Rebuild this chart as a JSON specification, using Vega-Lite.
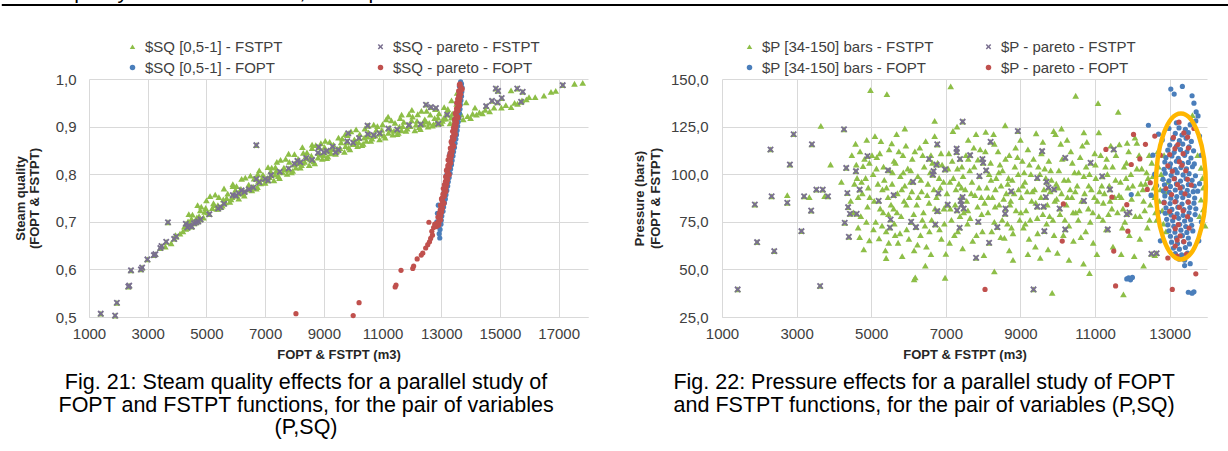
{
"$schema": "https://vega.github.io/schema/vega-lite/v6.json",
"background": "white",
"padding": {"left": 0, "top": -18, "right": 0, "bottom": 0},
"config": {
  "font": "Liberation Sans",
  "view": {"stroke": null},
  "axis": {"labelFont": "Liberation Sans", "labelFontSize": 15, "labelColor": "#404040", "titleFont": "Liberation Sans", "titleFontSize": 13, "titleFontWeight": "bold", "titleColor": "#262626", "gridColor": "#d9d9d9", "gridWidth": 1, "domainColor": "#d9d9d9", "ticks": false, "labelFlush": false, "labelOverlap": false},
  "legend": {"orient": "none", "columns": 2, "rowPadding": 5, "title": null, "labelFontSize": 15, "labelColor": "#404040", "labelFont": "Liberation Sans", "symbolSize": 30, "labelOffset": 5, "symbolStrokeWidth": 0, "labelLimit": 400}
},
"datasets": {
"L_tri": [{"x":3600,"y":0.648},{"x":3800,"y":0.655},{"x":4100,"y":0.675},{"x":4200,"y":0.68},{"x":4250,"y":0.69},{"x":3950,"y":0.672},
{"x":4300,"y":0.685},{"x":4375,"y":0.701},{"x":4450,"y":0.697},{"x":4525,"y":0.715},{"x":4600,"y":0.699},{"x":4675,"y":0.709},{"x":4750,"y":0.712},{"x":4825,"y":0.732},{"x":4900,"y":0.709},{"x":4975,"y":0.729},
{"x":5050,"y":0.72},{"x":5125,"y":0.754},{"x":5200,"y":0.729},{"x":5275,"y":0.735},{"x":5350,"y":0.727},{"x":5425,"y":0.752},{"x":5500,"y":0.731},{"x":5575,"y":0.747},{"x":5650,"y":0.741},{"x":5725,"y":0.759},{"x":5800,"y":0.742},{"x":5875,"y":0.752},{"x":5950,"y":0.755},{"x":6025,"y":0.775},
{"x":6100,"y":0.749},{"x":6175,"y":0.769},{"x":6250,"y":0.759},{"x":6325,"y":0.793},{"x":6400,"y":0.768},{"x":6475,"y":0.774},{"x":6550,"y":0.766},{"x":6625,"y":0.791},{"x":6700,"y":0.77},{"x":6775,"y":0.786},{"x":6850,"y":0.781},{"x":6925,"y":0.799},
{"x":7000,"y":0.782},{"x":7075,"y":0.792},{"x":7150,"y":0.794},{"x":7225,"y":0.814},{"x":7300,"y":0.787},{"x":7375,"y":0.807},{"x":7450,"y":0.796},{"x":7525,"y":0.83},{"x":7600,"y":0.804},{"x":7675,"y":0.81},{"x":7750,"y":0.801},{"x":7825,"y":0.826},{"x":7900,"y":0.804},{"x":7975,"y":0.82},
{"x":8050,"y":0.814},{"x":8125,"y":0.832},{"x":8200,"y":0.814},{"x":8275,"y":0.824},{"x":8350,"y":0.826},{"x":8425,"y":0.846},{"x":8500,"y":0.819},{"x":8575,"y":0.839},{"x":8650,"y":0.827},{"x":8725,"y":0.861},{"x":8800,"y":0.835},{"x":8875,"y":0.841},{"x":8950,"y":0.832},{"x":9025,"y":0.857},
{"x":9100,"y":0.834},{"x":9175,"y":0.85},{"x":9250,"y":0.844},{"x":9325,"y":0.862},{"x":9400,"y":0.843},{"x":9475,"y":0.853},{"x":9550,"y":0.855},{"x":9625,"y":0.875},{"x":9700,"y":0.847},{"x":9775,"y":0.867},{"x":9850,"y":0.856},{"x":9925,"y":0.89},
{"x":10000,"y":0.863},{"x":10075,"y":0.869},{"x":10150,"y":0.859},{"x":10225,"y":0.884},{"x":10300,"y":0.861},{"x":10375,"y":0.877},{"x":10450,"y":0.87},{"x":10525,"y":0.888},{"x":10600,"y":0.87},{"x":10675,"y":0.88},{"x":10750,"y":0.881},{"x":10825,"y":0.901},{"x":10900,"y":0.873},{"x":10975,"y":0.893},
{"x":11050,"y":0.881},{"x":11125,"y":0.915},{"x":11200,"y":0.887},{"x":11275,"y":0.893},{"x":11350,"y":0.883},{"x":11425,"y":0.908},{"x":11500,"y":0.884},{"x":11575,"y":0.9},{"x":11650,"y":0.892},{"x":11725,"y":0.91},{"x":11800,"y":0.891},{"x":11875,"y":0.901},{"x":11950,"y":0.901},{"x":12025,"y":0.921},
{"x":12100,"y":0.892},{"x":12175,"y":0.912},{"x":12250,"y":0.899},{"x":12325,"y":0.933},{"x":12400,"y":0.905},{"x":12475,"y":0.911},{"x":12550,"y":0.9},{"x":12625,"y":0.925},{"x":12700,"y":0.902},{"x":12775,"y":0.918},{"x":12850,"y":0.91},{"x":12925,"y":0.928},
{"x":13000,"y":0.907},{"x":13075,"y":0.917},{"x":13150,"y":0.917},{"x":13225,"y":0.937},{"x":13300,"y":0.907},{"x":13375,"y":0.927},{"x":13450,"y":0.914},{"x":13525,"y":0.948},{"x":13600,"y":0.92},{"x":13675,"y":0.926},
{"x":4340,"y":0.688},{"x":4490,"y":0.706},{"x":4640,"y":0.704},{"x":4790,"y":0.724},{"x":4940,"y":0.721},{"x":5090,"y":0.716},{"x":5240,"y":0.739},{"x":5390,"y":0.735},{"x":5540,"y":0.734},{"x":5690,"y":0.75},{"x":5840,"y":0.747},{"x":5990,"y":0.767},{"x":6140,"y":0.761},{"x":6290,"y":0.755},{"x":6440,"y":0.778},{"x":6590,"y":0.774},{"x":6740,"y":0.773},{"x":6890,"y":0.79},{"x":7040,"y":0.787},{"x":7190,"y":0.806},{"x":7340,"y":0.799},{"x":7490,"y":0.792},{"x":7640,"y":0.814},{"x":7790,"y":0.809},{"x":7940,"y":0.807},{"x":8090,"y":0.823},{"x":8240,"y":0.819},{"x":8390,"y":0.838},{"x":8540,"y":0.831},{"x":8690,"y":0.823},{"x":8840,"y":0.845},{"x":8990,"y":0.84},{"x":9140,"y":0.837},{"x":9290,"y":0.853},{"x":9440,"y":0.848},{"x":9590,"y":0.867},{"x":9740,"y":0.859},{"x":9890,"y":0.852},{"x":10040,"y":0.873},{"x":10190,"y":0.867},{"x":10340,"y":0.864},{"x":10490,"y":0.879},{"x":10640,"y":0.875},{"x":10790,"y":0.893},{"x":10940,"y":0.885},{"x":11090,"y":0.877},{"x":11240,"y":0.897},{"x":11390,"y":0.891},{"x":11540,"y":0.887},{"x":11690,"y":0.901},{"x":11840,"y":0.896},{"x":11990,"y":0.913},{"x":12140,"y":0.904},{"x":12290,"y":0.895},{"x":12440,"y":0.915},{"x":12590,"y":0.908},{"x":12740,"y":0.905},{"x":12890,"y":0.919},{"x":13040,"y":0.912},{"x":13190,"y":0.929},{"x":13340,"y":0.919},{"x":13490,"y":0.91},{"x":13640,"y":0.93},
{"x":4400,"y":0.716},{"x":4700,"y":0.735},{"x":5000,"y":0.745},{"x":5300,"y":0.757},{"x":5600,"y":0.77},{"x":5900,"y":0.779},{"x":6200,"y":0.79},{"x":6500,"y":0.797},{"x":6800,"y":0.808},{"x":7100,"y":0.815},{"x":7400,"y":0.826},{"x":7700,"y":0.832},{"x":8000,"y":0.842},{"x":8300,"y":0.845},{"x":8600,"y":0.855},{"x":8900,"y":0.865},{"x":9200,"y":0.868},{"x":9500,"y":0.877},{"x":9800,"y":0.882},{"x":10100,"y":0.894},{"x":10400,"y":0.896},{"x":10700,"y":0.904},{"x":11000,"y":0.905},{"x":11300,"y":0.913},{"x":11600,"y":0.918},{"x":11900,"y":0.926},{"x":12200,"y":0.926},{"x":12500,"y":0.933},{"x":12800,"y":0.937},{"x":13100,"y":0.941},
{"x":6750,"y":0.8},{"x":7350,"y":0.815},{"x":7800,"y":0.843},{"x":8270,"y":0.857},{"x":8600,"y":0.862},{"x":9050,"y":0.87},{"x":9730,"y":0.884},{"x":10520,"y":0.902},{"x":11190,"y":0.921},{"x":11650,"y":0.925},{"x":12000,"y":0.935},{"x":13540,"y":0.971},{"x":13350,"y":0.955},{"x":5900,"y":0.775},
{"x":13750,"y":0.915},{"x":13850,"y":0.951},{"x":13900,"y":0.922},{"x":14000,"y":0.918},{"x":14070,"y":0.927},{"x":14200,"y":0.925},{"x":14300,"y":0.93},{"x":14400,"y":0.928},{"x":14500,"y":0.935},{"x":14650,"y":0.932},{"x":14800,"y":0.94},{"x":15050,"y":0.94},{"x":15200,"y":0.945},{"x":15380,"y":0.941},{"x":15500,"y":0.95},{"x":15600,"y":0.948},{"x":15750,"y":0.955},{"x":15900,"y":0.957},{"x":15990,"y":0.962},{"x":16200,"y":0.962},{"x":16500,"y":0.965},{"x":16740,"y":0.973},{"x":15378,"y":0.976},{"x":17540,"y":0.99},{"x":17820,"y":0.992},{"x":16900,"y":0.975},{"x":14150,"y":0.94}],
"L_par": [{"x":1400,"y":0.507},{"x":1890,"y":0.503},{"x":1950,"y":0.53},{"x":2340,"y":0.564},{"x":2370,"y":0.566},{"x":2430,"y":0.598},{"x":2770,"y":0.6},{"x":2810,"y":0.604},{"x":2990,"y":0.621},{"x":3210,"y":0.63},{"x":3260,"y":0.632},{"x":3430,"y":0.645},{"x":3470,"y":0.649},{"x":3630,"y":0.658},{"x":3900,"y":0.664},{"x":3970,"y":0.669},{"x":3690,"y":0.699},{"x":4300,"y":0.696},
{"x":4350,"y":0.688},{"x":4420,"y":0.692},{"x":4500,"y":0.69},{"x":4580,"y":0.697},{"x":4650,"y":0.699},{"x":4720,"y":0.701},{"x":4800,"y":0.705},{"x":5100,"y":0.716},{"x":5400,"y":0.728},{"x":5480,"y":0.731},{"x":5600,"y":0.738},{"x":5900,"y":0.756},{"x":6000,"y":0.755},{"x":6100,"y":0.76},{"x":6200,"y":0.766},{"x":6300,"y":0.763},{"x":6450,"y":0.768},{"x":6600,"y":0.772},{"x":6700,"y":0.79},{"x":6800,"y":0.783},{"x":7000,"y":0.79},{"x":7100,"y":0.787},{"x":7200,"y":0.798},{"x":7500,"y":0.805},{"x":7800,"y":0.812},{"x":8000,"y":0.822},{"x":8100,"y":0.828},{"x":8200,"y":0.825},{"x":8400,"y":0.834},{"x":8600,"y":0.83},{"x":8800,"y":0.845},{"x":9000,"y":0.846},{"x":9100,"y":0.849},{"x":9300,"y":0.858},{"x":9400,"y":0.846},{"x":9500,"y":0.851},{"x":9800,"y":0.869},{"x":10000,"y":0.866},{"x":10200,"y":0.876},{"x":10500,"y":0.884},{"x":10700,"y":0.882},{"x":10900,"y":0.886},{"x":11200,"y":0.896},{"x":11500,"y":0.894},{"x":11900,"y":0.903},{"x":12300,"y":0.905},{"x":12900,"y":0.906},{"x":13200,"y":0.925},
{"x":6700,"y":0.861},{"x":8830,"y":0.857},{"x":9830,"y":0.886},{"x":10490,"y":0.902},{"x":12480,"y":0.946},{"x":12650,"y":0.941},{"x":12820,"y":0.939},{"x":14530,"y":0.943},{"x":14730,"y":0.954},{"x":14935,"y":0.975},{"x":14860,"y":0.98},{"x":15590,"y":0.98},{"x":15720,"y":0.952},{"x":15775,"y":0.973},{"x":14920,"y":0.951},{"x":17140,"y":0.987},{"x":15060,"y":0.96}],
"L_blu": [{"x":12950,"y":0.666},{"x":12930,"y":0.675},{"x":12960,"y":0.684},{"x":12990,"y":0.695},{"x":13000,"y":0.703},{"x":13020,"y":0.712},{"x":13060,"y":0.722},{"x":13080,"y":0.731},{"x":13110,"y":0.74},{"x":13140,"y":0.748},{"x":13160,"y":0.757},{"x":13190,"y":0.766},{"x":13220,"y":0.775},{"x":13240,"y":0.784},{"x":13270,"y":0.793},{"x":13300,"y":0.802},{"x":13320,"y":0.811},{"x":13350,"y":0.82},{"x":13370,"y":0.829},{"x":13400,"y":0.838},{"x":13420,"y":0.847},{"x":13450,"y":0.856},{"x":13470,"y":0.865},{"x":13500,"y":0.874},{"x":13520,"y":0.883},{"x":13540,"y":0.892},{"x":13560,"y":0.901},{"x":13580,"y":0.91},{"x":13600,"y":0.919},{"x":13620,"y":0.928},{"x":13640,"y":0.937},{"x":13650,"y":0.946},{"x":13670,"y":0.955},{"x":13690,"y":0.964},{"x":13700,"y":0.973},{"x":13710,"y":0.982},{"x":13690,"y":0.99},{"x":13660,"y":0.994},{"x":12850,"y":0.7},{"x":12870,"y":0.718},{"x":12900,"y":0.735},{"x":13080,"y":0.76},{"x":13180,"y":0.798},{"x":13290,"y":0.842},{"x":13380,"y":0.878},{"x":13460,"y":0.915},{"x":13540,"y":0.95},{"x":13620,"y":0.985}],
"L_red": [{"x":12840,"y":0.69},{"x":12917,"y":0.695},{"x":12903,"y":0.7},{"x":12970,"y":0.705},{"x":12887,"y":0.71},{"x":12963,"y":0.715},{"x":13010,"y":0.72},{"x":12965,"y":0.725},{"x":13020,"y":0.73},{"x":12975,"y":0.735},{"x":13090,"y":0.74},{"x":13035,"y":0.745},{"x":13030,"y":0.75},{"x":13105,"y":0.755},{"x":13090,"y":0.76},{"x":13155,"y":0.765},{"x":13070,"y":0.77},{"x":13145,"y":0.775},{"x":13190,"y":0.78},{"x":13143,"y":0.785},{"x":13197,"y":0.79},{"x":13150,"y":0.795},{"x":13263,"y":0.8},{"x":13207,"y":0.805},{"x":13200,"y":0.81},{"x":13273,"y":0.815},{"x":13257,"y":0.82},{"x":13320,"y":0.825},{"x":13233,"y":0.83},{"x":13307,"y":0.835},{"x":13350,"y":0.84},{"x":13303,"y":0.845},{"x":13357,"y":0.85},{"x":13310,"y":0.855},{"x":13423,"y":0.86},{"x":13367,"y":0.865},{"x":13360,"y":0.87},{"x":13432,"y":0.875},{"x":13413,"y":0.88},{"x":13475,"y":0.885},{"x":13387,"y":0.89},{"x":13458,"y":0.895},{"x":13500,"y":0.9},{"x":13452,"y":0.905},{"x":13503,"y":0.91},{"x":13455,"y":0.915},{"x":13567,"y":0.92},{"x":13508,"y":0.925},{"x":13500,"y":0.93},{"x":13572,"y":0.935},{"x":13553,"y":0.94},{"x":13615,"y":0.945},{"x":13527,"y":0.95},{"x":13598,"y":0.955},{"x":13640,"y":0.96},{"x":13592,"y":0.965},{"x":13643,"y":0.97},{"x":13595,"y":0.975},{"x":13707,"y":0.98},{"x":13648,"y":0.985},{"x":13640,"y":0.99},
{"x":12903,"y":0.693},{"x":12870,"y":0.698},{"x":12967,"y":0.703},{"x":12923,"y":0.708},{"x":12980,"y":0.713},{"x":12927,"y":0.718},{"x":12993,"y":0.723},{"x":13038,"y":0.728},{"x":12993,"y":0.733},{"x":13088,"y":0.738},{"x":13043,"y":0.743},{"x":13008,"y":0.748},{"x":13093,"y":0.753},{"x":13058,"y":0.758},{"x":13153,"y":0.763},{"x":13108,"y":0.768},{"x":13163,"y":0.773},{"x":13108,"y":0.778},{"x":13172,"y":0.783},{"x":13215,"y":0.788},{"x":13168,"y":0.793},{"x":13262,"y":0.798},{"x":13215,"y":0.803},{"x":13178,"y":0.808},{"x":13262,"y":0.813},{"x":13225,"y":0.818},{"x":13318,"y":0.823},{"x":13272,"y":0.828},{"x":13325,"y":0.833},{"x":13268,"y":0.838},{"x":13332,"y":0.843},{"x":13375,"y":0.848},{"x":13328,"y":0.853},{"x":13422,"y":0.858},{"x":13375,"y":0.863},{"x":13338,"y":0.868},{"x":13421,"y":0.873},{"x":13383,"y":0.878},{"x":13474,"y":0.883},{"x":13426,"y":0.888},{"x":13477,"y":0.893},{"x":13419,"y":0.898},{"x":13481,"y":0.903},{"x":13522,"y":0.908},{"x":13474,"y":0.913},{"x":13566,"y":0.918},{"x":13517,"y":0.923},{"x":13479,"y":0.928},{"x":13561,"y":0.933},{"x":13522,"y":0.938},{"x":13614,"y":0.943},{"x":13566,"y":0.948},{"x":13617,"y":0.953},{"x":13559,"y":0.958},{"x":13621,"y":0.963},{"x":13662,"y":0.968},{"x":13614,"y":0.973},{"x":13706,"y":0.978},{"x":13657,"y":0.983},{"x":13619,"y":0.988},
{"x":8050,"y":0.507},{"x":10000,"y":0.503},{"x":10200,"y":0.53},{"x":11430,"y":0.563},{"x":11460,"y":0.567},{"x":11630,"y":0.598},{"x":12030,"y":0.602},{"x":12060,"y":0.607},{"x":12180,"y":0.622},{"x":12320,"y":0.63},{"x":12370,"y":0.634},{"x":12470,"y":0.645},{"x":12540,"y":0.652},{"x":12600,"y":0.658},{"x":12640,"y":0.665},{"x":12580,"y":0.699},{"x":12680,"y":0.68},{"x":12740,"y":0.688},{"x":12700,"y":0.672},{"x":12780,"y":0.695}],
"R_tri": [{"x":4550,"y":95},{"x":4600,"y":105},{"x":4650,"y":88},{"x":4700,"y":112},{"x":4720,"y":78},{"x":4780,"y":104.2},{"x":4800,"y":60.5},{"x":4850,"y":98},{"x":4900,"y":83},{"x":4950,"y":106},{"x":4950,"y":65.2},{"x":4980,"y":144.2},{"x":4650,"y":72},{"x":4880,"y":118},{"x":4920,"y":93},
{"x":5050,"y":100},{"x":5080,"y":86},{"x":5120,"y":75},{"x":5150,"y":109},{"x":5210,"y":66.3},{"x":5260,"y":117.4},{"x":5300,"y":92},{"x":5320,"y":80},{"x":5350,"y":97},{"x":5400,"y":70},{"x":5420,"y":142.1},{"x":5450,"y":88},{"x":5480,"y":113},{"x":5500,"y":102},{"x":5100,"y":120},{"x":5380,"y":60},
{"x":5550,"y":116.2},{"x":5560,"y":95},{"x":5600,"y":82},{"x":5620,"y":74},{"x":5650,"y":106},{"x":5700,"y":90},{"x":5720,"y":64},{"x":5780,"y":99},{"x":5800,"y":78},{"x":5850,"y":110},{"x":5880,"y":86},{"x":5900,"y":94},{"x":5950,"y":71},{"x":5980,"y":103},{"x":5680,"y":121},{"x":5830,"y":57},
{"x":6020,"y":88},{"x":6050,"y":96},{"x":6070,"y":75},{"x":6100,"y":108},{"x":6150,"y":44.8},{"x":6180,"y":45.8},{"x":6200,"y":72.2},{"x":6220,"y":84},{"x":6250,"y":99},{"x":6300,"y":114},{"x":6320,"y":68},{"x":6350,"y":91},{"x":6400,"y":80},{"x":6420,"y":104},{"x":6460,"y":117.4},{"x":6480,"y":62},{"x":6150,"y":60},
{"x":6520,"y":95},{"x":6550,"y":85},{"x":6600,"y":110},{"x":6620,"y":76},{"x":6650,"y":99.8},{"x":6700,"y":120},{"x":6720,"y":73.6},{"x":6750,"y":88},{"x":6770,"y":115.7},{"x":6800,"y":80.6},{"x":6850,"y":93},{"x":6880,"y":66},{"x":6900,"y":105},{"x":6950,"y":82},{"x":6980,"y":45.6},{"x":6980,"y":102.5},{"x":6600,"y":58},
{"x":7000,"y":58.2},{"x":7030,"y":90},{"x":7080,"y":111},{"x":7130,"y":146.1},{"x":7150,"y":76},{"x":7190,"y":122.7},{"x":7200,"y":98},{"x":7250,"y":84},{"x":7320,"y":70},{"x":7350,"y":95},{"x":7400,"y":88},{"x":7430,"y":104},{"x":7480,"y":80},{"x":7100,"y":64},
{"x":7520,"y":92},{"x":7560,"y":86},{"x":7600,"y":108},{"x":7650,"y":77},{"x":7700,"y":96},{"x":7720,"y":65},{"x":7750,"y":114},{"x":7810,"y":121},{"x":7850,"y":83},{"x":7860,"y":107.7},{"x":7950,"y":88},{"x":7980,"y":70},{"x":7600,"y":118},
{"x":8020,"y":57.5},{"x":8070,"y":122.2},{"x":8100,"y":93},{"x":8130,"y":80},{"x":8200,"y":106},{"x":8250,"y":88},{"x":8280,"y":121},{"x":8300,"y":75},{"x":8350,"y":98},{"x":8400,"y":112},{"x":8430,"y":84},{"x":8470,"y":67},{"x":8480,"y":94},
{"x":8520,"y":102},{"x":8570,"y":66.6},{"x":8590,"y":125.7},{"x":8620,"y":90},{"x":8650,"y":74},{"x":8700,"y":110},{"x":8720,"y":84},{"x":8780,"y":97},{"x":8800,"y":69},{"x":8850,"y":104},{"x":8880,"y":81},{"x":8950,"y":92},{"x":8980,"y":76},{"x":8700,"y":60},
{"x":9020,"y":88},{"x":9050,"y":107},{"x":9080,"y":72},{"x":9120,"y":96},{"x":9150,"y":81},{"x":9200,"y":113},{"x":9230,"y":66},{"x":9280,"y":100},{"x":9300,"y":86},{"x":9380,"y":92},{"x":9420,"y":121.5},{"x":9450,"y":77},{"x":9480,"y":104},{"x":9200,"y":58},
{"x":9530,"y":56.1},{"x":9550,"y":88},{"x":9600,"y":79},{"x":9680,"y":98},{"x":9720,"y":84},{"x":9740,"y":60.5},{"x":9760,"y":107},{"x":9800,"y":91},{"x":9850,"y":37.7},{"x":9870,"y":76},{"x":9890,"y":122.7},{"x":9940,"y":121},{"x":9960,"y":95},{"x":9990,"y":58.7},{"x":9920,"y":86},
{"x":10030,"y":102},{"x":10060,"y":79},{"x":10100,"y":90},{"x":10150,"y":68},{"x":10230,"y":84},{"x":10280,"y":97},{"x":10300,"y":73},{"x":10350,"y":112},{"x":10380,"y":88},{"x":10420,"y":65},{"x":10450,"y":101},{"x":10480,"y":141.2},{"x":10480,"y":80},{"x":10250,"y":118},
{"x":10520,"y":94},{"x":10550,"y":76},{"x":10600,"y":109},{"x":10640,"y":86},{"x":10690,"y":53},{"x":10700,"y":99},{"x":10750,"y":70},{"x":10780,"y":117},{"x":10820,"y":82},{"x":10900,"y":92},{"x":10950,"y":64},{"x":10980,"y":88},{"x":10700,"y":122},
{"x":11020,"y":98},{"x":11080,"y":137.3},{"x":11100,"y":78},{"x":11150,"y":110},{"x":11220,"y":85},{"x":11280,"y":104},{"x":11300,"y":71},{"x":11380,"y":94},{"x":11420,"y":115},{"x":11450,"y":82},{"x":11480,"y":62},{"x":11250,"y":90},
{"x":11550,"y":97},{"x":11600,"y":80},{"x":11620,"y":132.7},{"x":11650,"y":115.7},{"x":11700,"y":88},{"x":11760,"y":36.9},{"x":11780,"y":104},{"x":11800,"y":75},{"x":11860,"y":116.5},{"x":11880,"y":93},{"x":11920,"y":68},{"x":11960,"y":100},{"x":11700,"y":58},
{"x":12070,"y":119.2},{"x":12120,"y":116.5},{"x":12150,"y":90},{"x":12200,"y":78},{"x":12250,"y":103},{"x":12300,"y":86},{"x":12350,"y":95},{"x":12400,"y":72},{"x":12450,"y":110},{"x":12480,"y":84},{"x":12200,"y":66},
{"x":12550,"y":99},{"x":12600,"y":88},{"x":12650,"y":76},{"x":12700,"y":104},{"x":12750,"y":92},{"x":12800,"y":81},{"x":12850,"y":110},{"x":12900,"y":70},{"x":12950,"y":96},{"x":12600,"y":57.5},
{"x":13840,"y":103.4},{"x":13840,"y":86.6},{"x":13610,"y":131},{"x":13900,"y":93},{"x":13800,"y":78},{"x":13750,"y":110},{"x":13880,"y":98},{"x":13900,"y":81.5},{"x":13950,"y":73},
{"x":3650,"y":125.4},{"x":3910,"y":105.1},{"x":2750,"y":89},{"x":3340,"y":88},{"x":3750,"y":88.5},{"x":4200,"y":96},{"x":4450,"y":86},{"x":4480,"y":110},
{"x":4620,"y":98},{"x":4760,"y":90},{"x":4870,"y":75},{"x":5020,"y":110},{"x":5180,"y":95},{"x":5240,"y":82},{"x":5330,"y":104},{"x":5460,"y":79},{"x":5570,"y":101},{"x":5640,"y":68},{"x":5740,"y":112},{"x":5820,"y":92},{"x":5940,"y":84},{"x":6060,"y":102},{"x":6140,"y":79},{"x":6260,"y":88},{"x":6380,"y":110},{"x":6440,"y":73},{"x":6580,"y":101},{"x":6680,"y":92},{"x":6780,"y":106},{"x":6830,"y":71},{"x":6940,"y":96},{"x":7060,"y":103},{"x":7120,"y":82},{"x":7270,"y":92},{"x":7380,"y":78},{"x":7460,"y":99},{"x":7580,"y":74},{"x":7640,"y":102},{"x":7780,"y":89},{"x":7820,"y":68},{"x":7920,"y":113},{"x":8040,"y":85},{"x":8160,"y":100},{"x":8230,"y":70},{"x":8330,"y":92},{"x":8450,"y":105},{"x":8550,"y":87},{"x":8680,"y":98},{"x":8760,"y":72},{"x":8830,"y":90},{"x":8920,"y":109},{"x":9010,"y":80},{"x":9100,"y":101},{"x":9180,"y":91},{"x":9260,"y":76},{"x":9350,"y":108},{"x":9410,"y":85},{"x":9520,"y":100},{"x":9630,"y":92},{"x":9700,"y":74},{"x":9810,"y":102},{"x":9900,"y":68},{"x":10010,"y":93},{"x":10120,"y":108},{"x":10190,"y":76},{"x":10330,"y":92},{"x":10410,"y":80},{"x":10560,"y":101},{"x":10620,"y":67},{"x":10720,"y":90},{"x":10850,"y":100},{"x":10870,"y":75},{"x":10990,"y":111},{"x":11060,"y":86},{"x":11180,"y":94},{"x":11330,"y":100},{"x":11360,"y":79},{"x":11470,"y":104},{"x":11520,"y":88},{"x":11680,"y":96},{"x":11730,"y":72},{"x":11840,"y":106},{"x":12010,"y":94},{"x":12080,"y":78},{"x":12180,"y":110},{"x":12280,"y":92},{"x":12380,"y":101},{"x":12460,"y":76},{"x":12580,"y":93},{"x":12720,"y":86},{"x":12820,"y":98},{"x":12960,"y":80},{"x":12520,"y":106},{"x":12680,"y":112},{"x":12880,"y":91},
{"x":5900,"y":124},{"x":6700,"y":128},{"x":7300,"y":125},{"x":8300,"y":116},{"x":9000,"y":118},{"x":9600,"y":117},{"x":10100,"y":124},{"x":11100,"y":122},{"x":11900,"y":112},{"x":5400,"y":56},{"x":6450,"y":52},{"x":7450,"y":61},{"x":8800,"y":55},{"x":9400,"y":62},{"x":10300,"y":55},{"x":11050,"y":58},{"x":12050,"y":57},{"x":10850,"y":48},{"x":8300,"y":49},{"x":12300,"y":52},
{"x":4520,"y":80},{"x":4580,"y":116},{"x":4690,"y":67},{"x":4740,"y":96},{"x":4820,"y":108},{"x":4960,"y":88},{"x":5060,"y":71},{"x":5140,"y":103},{"x":5230,"y":111},{"x":5290,"y":73},{"x":5410,"y":93},{"x":5470,"y":64},{"x":5530,"y":84},{"x":5610,"y":107},{"x":5690,"y":80},{"x":5770,"y":69},{"x":5860,"y":101},{"x":5930,"y":115},{"x":6010,"y":66},{"x":6090,"y":91},{"x":6170,"y":112},{"x":6240,"y":63},{"x":6330,"y":97},{"x":6370,"y":76},{"x":6500,"y":89},{"x":6560,"y":70},{"x":6640,"y":106},{"x":6710,"y":82},{"x":6820,"y":98},{"x":6870,"y":111},{"x":6960,"y":74},{"x":7020,"y":84},{"x":7110,"y":96},{"x":7170,"y":107},{"x":7230,"y":68},{"x":7310,"y":103},{"x":7420,"y":93},{"x":7540,"y":110},{"x":7590,"y":81},{"x":7680,"y":90},{"x":7760,"y":104},{"x":7890,"y":93},{"x":7960,"y":79},{"x":8060,"y":112},{"x":8140,"y":88},{"x":8210,"y":97},{"x":8320,"y":83},{"x":8420,"y":101},{"x":8510,"y":76},{"x":8600,"y":108},{"x":8660,"y":95},{"x":8740,"y":86},{"x":8870,"y":114},{"x":8940,"y":100},{"x":9060,"y":94},{"x":9130,"y":74},{"x":9240,"y":105},{"x":9320,"y":91},{"x":9460,"y":69},{"x":9560,"y":111},{"x":9650,"y":103},{"x":9780,"y":78},{"x":9830,"y":97},{"x":9970,"y":87},{"x":10080,"y":116},{"x":10170,"y":97},{"x":10260,"y":88},{"x":10390,"y":106},{"x":10470,"y":91},{"x":10580,"y":81},{"x":10660,"y":115},{"x":10760,"y":104},{"x":10830,"y":94},{"x":10940,"y":80},{"x":11010,"y":105},{"x":11120,"y":91},{"x":11210,"y":76},{"x":11310,"y":108},{"x":11400,"y":86},{"x":11560,"y":110},{"x":11640,"y":89},{"x":11750,"y":82},{"x":11830,"y":98},{"x":11980,"y":87},{"x":12120,"y":103},{"x":12230,"y":95},{"x":12330,"y":81},{"x":12420,"y":98},{"x":12530,"y":89},{"x":12620,"y":80},{"x":12770,"y":100},{"x":12830,"y":74}],
"R_par": [{"x":1420,"y":39.5},{"x":1880,"y":84.1},{"x":1940,"y":64.3},{"x":2300,"y":113},{"x":2330,"y":88.4},{"x":2400,"y":59.6},{"x":2750,"y":85},{"x":2820,"y":105.1},{"x":2920,"y":121},{"x":3130,"y":70.1},{"x":3200,"y":88.4},{"x":3390,"y":80.9},{"x":3410,"y":115.7},{"x":3530,"y":91.9},{"x":3630,"y":41.3},{"x":3700,"y":91.9},{"x":3840,"y":88.4},{"x":4270,"y":123.6},{"x":4290,"y":74.5},{"x":4330,"y":103.3},{"x":4360,"y":90.1},{"x":4380,"y":82.7},{"x":4400,"y":67.1},{"x":4430,"y":79.2},{"x":4590,"y":101.6},{"x":4610,"y":79.2},{"x":4690,"y":91.9},{"x":4900,"y":109.5},
{"x":5450,"y":102.1},{"x":5520,"y":76.2},{"x":5500,"y":72},{"x":6070,"y":75},{"x":6200,"y":72.2},{"x":6670,"y":101.6},{"x":6650,"y":99.8},{"x":6720,"y":73.6},{"x":6770,"y":80.6},{"x":6770,"y":115.7},{"x":6750,"y":105},{"x":6800,"y":90},{"x":6980,"y":102.5},{"x":7050,"y":84},{"x":7290,"y":113.4},{"x":7290,"y":111.6},{"x":7370,"y":71.9},{"x":7450,"y":127.6},{"x":7380,"y":108},{"x":7400,"y":86},{"x":7420,"y":84},{"x":7450,"y":88},{"x":7480,"y":82},{"x":7300,"y":81},{"x":7810,"y":56.1},{"x":7870,"y":75},{"x":7900,"y":99},{"x":8160,"y":64},{"x":8380,"y":72.2},{"x":8590,"y":79.2},{"x":8930,"y":122.7},{"x":8000,"y":106},{"x":8200,"y":117},{"x":8080,"y":102},{"x":7980,"y":108},{"x":9350,"y":39.5},{"x":9580,"y":112.1},{"x":9640,"y":70.1},{"x":9620,"y":83},{"x":9700,"y":96},{"x":9680,"y":88},{"x":10200,"y":71},{"x":10200,"y":108.6},{"x":10880,"y":106},{"x":11190,"y":98.9},{"x":11340,"y":71},{"x":11500,"y":113},{"x":11400,"y":92},{"x":12510,"y":58.2},{"x":11920,"y":80},{"x":11850,"y":79},{"x":9900,"y":92},{"x":9750,"y":93},{"x":8750,"y":91},{"x":8600,"y":82},{"x":7650,"y":110},{"x":6550,"y":108},{"x":5600,"y":89},{"x":5200,"y":86},{"x":6120,"y":96},{"x":10700,"y":86},{"x":9450,"y":98},{"x":9450,"y":83},{"x":10050,"y":82},{"x":12650,"y":58.5}],
"R_blu": [{"x":13250,"y":124.3},{"x":13420,"y":123.6},{"x":13150,"y":121.4},{"x":13330,"y":120.6},{"x":13500,"y":121.8},{"x":13080,"y":118.5},{"x":13260,"y":117.6},{"x":13440,"y":118.9},{"x":13580,"y":117.2},{"x":13000,"y":115.3},{"x":13180,"y":114.6},{"x":13350,"y":115.8},{"x":13520,"y":114.4},
{"x":12950,"y":112.6},{"x":13120,"y":111.5},{"x":13290,"y":112.9},{"x":13460,"y":111.8},{"x":13640,"y":112.3},{"x":12900,"y":108.7},{"x":13060,"y":109.6},{"x":13230,"y":108.3},{"x":13400,"y":109.9},{"x":13570,"y":108.5},
{"x":12870,"y":106.4},{"x":13020,"y":105.5},{"x":13180,"y":106.8},{"x":13340,"y":105.7},{"x":13500,"y":106.2},{"x":13660,"y":105.4},{"x":12850,"y":102.6},{"x":13000,"y":103.7},{"x":13150,"y":102.4},{"x":13300,"y":103.5},{"x":13450,"y":102.8},{"x":13610,"y":103.9},
{"x":12880,"y":100.5},{"x":13040,"y":99.4},{"x":13200,"y":100.8},{"x":13360,"y":99.6},{"x":13520,"y":100.3},{"x":13690,"y":99.2},{"x":12820,"y":97.3},{"x":12980,"y":96.5},{"x":13130,"y":97.8},{"x":13290,"y":96.4},{"x":13440,"y":97.6},{"x":13600,"y":96.8},
{"x":12860,"y":94.4},{"x":13020,"y":93.6},{"x":13180,"y":94.9},{"x":13340,"y":93.3},{"x":13500,"y":94.6},{"x":13660,"y":93.8},{"x":12830,"y":91.2},{"x":12990,"y":90.5},{"x":13150,"y":91.7},{"x":13310,"y":90.3},{"x":13470,"y":91.5},{"x":13630,"y":90.8},{"x":13750,"y":91.1},
{"x":12870,"y":88.6},{"x":13030,"y":87.4},{"x":13190,"y":88.3},{"x":13350,"y":87.7},{"x":13510,"y":88.8},{"x":13670,"y":87.5},{"x":12850,"y":85.4},{"x":13010,"y":84.6},{"x":13170,"y":85.8},{"x":13330,"y":84.3},{"x":13490,"y":85.5},{"x":13650,"y":84.8},
{"x":12900,"y":82.3},{"x":13060,"y":81.5},{"x":13220,"y":82.7},{"x":13380,"y":81.4},{"x":13540,"y":82.5},{"x":13700,"y":81.8},{"x":12880,"y":79.5},{"x":13040,"y":78.6},{"x":13200,"y":79.2},{"x":13360,"y":78.4},{"x":13520,"y":79.7},{"x":13680,"y":78.8},
{"x":12920,"y":76.3},{"x":13080,"y":75.5},{"x":13240,"y":76.8},{"x":13400,"y":75.4},{"x":13560,"y":76.1},{"x":12950,"y":73.4},{"x":13110,"y":72.6},{"x":13270,"y":73.7},{"x":13430,"y":72.5},{"x":13590,"y":73.2},
{"x":12980,"y":70.3},{"x":13140,"y":69.5},{"x":13300,"y":70.6},{"x":13460,"y":69.4},{"x":13620,"y":70.2},{"x":13020,"y":67.4},{"x":13180,"y":66.6},{"x":13340,"y":67.7},{"x":13500,"y":66.5},{"x":13050,"y":64.3},{"x":13210,"y":63.6},{"x":13370,"y":64.5},{"x":13530,"y":63.4},
{"x":13100,"y":61.2},{"x":13260,"y":60.6},{"x":13420,"y":61.5},{"x":13150,"y":58.3},{"x":13320,"y":57.6},{"x":13480,"y":58.5},{"x":13250,"y":55.4},{"x":13400,"y":54.8},
{"x":13030,"y":144.7},{"x":13120,"y":142.1},{"x":13340,"y":146.1},{"x":13600,"y":141.2},{"x":13650,"y":137.3},{"x":13710,"y":132.7},{"x":13760,"y":130.6},{"x":12430,"y":125.7},{"x":12700,"y":121},{"x":12800,"y":118},{"x":12550,"y":110},{"x":12600,"y":100},{"x":12650,"y":94},{"x":12500,"y":89},{"x":11970,"y":89.3},{"x":13550,"y":53},{"x":13400,"y":52},{"x":13600,"y":37.5},{"x":13650,"y":38.2},{"x":13500,"y":38},{"x":11850,"y":45},{"x":11900,"y":45.5},{"x":11950,"y":44.5},{"x":12000,"y":45.8},{"x":13800,"y":120},{"x":13850,"y":110},{"x":13800,"y":95},{"x":13850,"y":75},{"x":13780,"y":65},{"x":12750,"y":65},{"x":12700,"y":80},{"x":13700,"y":128},{"x":13550,"y":126},{"x":13180,"y":127},{"x":12980,"y":124}],
"R_red": [{"x":13250,"y":127.3},{"x":13380,"y":121.7},{"x":13100,"y":119.3},{"x":13480,"y":119.5},{"x":13220,"y":115.6},{"x":13140,"y":113.4},{"x":13500,"y":113.7},{"x":13000,"y":110.3},{"x":13360,"y":110.8},{"x":13260,"y":106.6},{"x":12950,"y":104.4},{"x":13330,"y":104.7},{"x":13070,"y":101.6},{"x":13430,"y":101.8},{"x":13120,"y":97.6},{"x":13480,"y":97.3},{"x":13210,"y":94.6},{"x":13580,"y":94.3},{"x":12900,"y":92.5},{"x":13280,"y":92.8},{"x":13050,"y":89.3},{"x":13410,"y":89.7},{"x":13140,"y":85.5},{"x":13500,"y":85.3},{"x":13260,"y":82.6},{"x":13000,"y":80.5},{"x":13360,"y":80.8},{"x":13120,"y":77.5},{"x":13480,"y":77.7},{"x":13230,"y":73.5},{"x":13150,"y":71.4},{"x":13520,"y":71.7},{"x":13280,"y":67.6},{"x":13200,"y":65.4},{"x":13380,"y":64.6},{"x":13150,"y":62.3},
{"x":12030,"y":120.9},{"x":12350,"y":115.7},{"x":11290,"y":113},{"x":11970,"y":105.1},{"x":12200,"y":108},{"x":10150,"y":84.4},{"x":10120,"y":64.9},{"x":11500,"y":59.6},{"x":11880,"y":70.1},{"x":8050,"y":39.5},{"x":11550,"y":41.3},{"x":13070,"y":39.5},{"x":13700,"y":47.7},{"x":13450,"y":58},{"x":13200,"y":57},{"x":11450,"y":88},{"x":11850,"y":84},{"x":12850,"y":85},{"x":12750,"y":110},{"x":12600,"y":120},{"x":12400,"y":92},{"x":12480,"y":95.5},{"x":13650,"y":124},{"x":12950,"y":56}],
"R_ell": [{"x":13300,"y":93.6}]
},
"spacing": 33,
"vconcat": [
{
  "width": 1140, "height": 1,
  "title": {"text": "Steam quality is lower than 80%, the impact is", "anchor": "start", "frame": "bounds", "fontSize": 21, "fontWeight": "normal", "font": "Liberation Sans", "color": "#000000", "offset": 1},
  "data": {"values": [{"a": -0.0765, "b": 1, "v": 0}]},
  "mark": {"type": "rule", "color": "#000000", "strokeWidth": 2},
  "encoding": {
    "x": {"field": "a", "type": "quantitative", "scale": {"domain": [0, 1], "nice": false, "zero": false}, "axis": null},
    "x2": {"field": "b"},
    "y": {"field": "v", "type": "quantitative", "scale": {"domain": [0, 1]}, "axis": null}
  }
},
{
  "spacing": 45,
  "resolve": {"scale": {"color": "independent", "shape": "independent", "x": "independent", "y": "independent"}, "legend": {"color": "independent", "shape": "independent"}},
  "hconcat": [
  {
    "width": 499, "height": 238,
    "title": {"text": ["Fig. 21: Steam quality effects for a parallel study of", "FOPT and FSTPT functions, for the pair of variables", "(P,SQ)"], "orient": "bottom", "anchor": "middle", "frame": "bounds", "fontSize": 21.5, "fontWeight": "normal", "font": "Liberation Sans", "color": "#000000", "lineHeight": 22.5, "offset": 11, "dx": 12},
    "encoding": {
      "x": {"field": "x", "type": "quantitative", "scale": {"domain": [1000, 18000], "nice": false, "zero": false}, "axis": {"title": "FOPT & FSTPT (m3)", "values": [1000,3000,5000,7000,9000,11000,13000,15000,17000], "format": "d", "labelPadding": 9, "titlePadding": 7, "domain": true}},
      "y": {"field": "y", "type": "quantitative", "scale": {"domain": [0.5, 1.0], "nice": false, "zero": false}, "axis": {"title": ["", "Steam quality", "(FOPT & FSTPT)"], "titleLineHeight": 14, "values": [0.5,0.6,0.7,0.8,0.9,1.0], "labelExpr": "replace(format(datum.value,'.1f'),'.',',')", "domain": false, "labelPadding": 13, "titlePadding": 14}}
    },
    "layer": [
      {"data": {"name": "L_tri"}, "mark": {"type": "point", "filled": true, "size": 45, "opacity": 1},
       "encoding": {
         "color": {"datum": "$SQ [0,5-1] - FSTPT", "type": "nominal", "scale": {"domain": ["$SQ [0,5-1] - FSTPT", "$SQ [0,5-1] - FOPT", "$SQ - pareto - FSTPT", "$SQ - pareto - FOPT"], "range": ["#8DBE47", "#4A7EBB", "#7a7090", "#C0504D"]},
           "legend": {"legendX": 36, "legendY": -40, "columnPadding": 90}},
         "shape": {"datum": "$SQ [0,5-1] - FSTPT", "type": "nominal", "scale": {"domain": ["$SQ [0,5-1] - FSTPT", "$SQ [0,5-1] - FOPT", "$SQ - pareto - FSTPT", "$SQ - pareto - FOPT"], "range": ["triangle-up", "circle", "M-1,-0.6L-0.6,-1L0,-0.4L0.6,-1L1,-0.6L0.4,0L1,0.6L0.6,1L0,0.4L-0.6,1L-1,0.6L-0.4,0Z", "circle"]},
           "legend": {"legendX": 36, "legendY": -40, "columnPadding": 90}}
       }},
      {"data": {"name": "L_par"}, "mark": {"type": "point", "filled": true, "size": 45, "opacity": 1},
       "encoding": {"color": {"datum": "$SQ [0,5-1] - FSTPT", "type": "nominal"}, "shape": {"datum": "$SQ [0,5-1] - FSTPT", "type": "nominal"}}},
      {"data": {"name": "L_par"}, "mark": {"type": "point", "filled": true, "size": 44, "opacity": 1},
       "encoding": {"color": {"datum": "$SQ - pareto - FSTPT", "type": "nominal"}, "shape": {"datum": "$SQ - pareto - FSTPT", "type": "nominal"}}},
      {"data": {"name": "L_blu"}, "mark": {"type": "point", "filled": true, "size": 27, "opacity": 1},
       "encoding": {"color": {"datum": "$SQ [0,5-1] - FOPT", "type": "nominal"}, "shape": {"datum": "$SQ [0,5-1] - FOPT", "type": "nominal"}}},
      {"data": {"name": "L_red"}, "mark": {"type": "point", "filled": true, "size": 27, "opacity": 1},
       "encoding": {"color": {"datum": "$SQ - pareto - FOPT", "type": "nominal"}, "shape": {"datum": "$SQ - pareto - FOPT", "type": "nominal"}}}
    ]
  },
  {
    "width": 485, "height": 238,
    "title": {"text": ["Fig. 22: Pressure effects for a parallel study of FOPT", "and FSTPT functions, for the pair of variables (P,SQ)"], "orient": "bottom", "anchor": "middle", "frame": "bounds", "fontSize": 21.5, "fontWeight": "normal", "font": "Liberation Sans", "color": "#000000", "lineHeight": 22.5, "offset": 11},
    "encoding": {
      "x": {"field": "x", "type": "quantitative", "scale": {"domain": [1000, 14000], "nice": false, "zero": false}, "axis": {"title": "FOPT & FSTPT (m3)", "values": [1000,3000,5000,7000,9000,11000,13000], "format": "d", "labelPadding": 9, "titlePadding": 7, "domain": true}},
      "y": {"field": "y", "type": "quantitative", "scale": {"domain": [25, 150], "nice": false, "zero": false}, "axis": {"title": ["Pressure (bars)", "(FOPT & FSTPT)"], "titleLineHeight": 16, "values": [25,50,75,100,125,150], "labelExpr": "replace(format(datum.value,'.1f'),'.',',')", "domain": false, "labelPadding": 14, "titlePadding": 8}}
    },
    "layer": [
      {"data": {"name": "R_tri"}, "mark": {"type": "point", "filled": true, "size": 45, "opacity": 1},
       "encoding": {
         "color": {"datum": "$P [34-150] bars - FSTPT", "type": "nominal", "scale": {"domain": ["$P [34-150] bars - FSTPT", "$P [34-150] bars - FOPT", "$P - pareto - FSTPT", "$P - pareto - FOPT"], "range": ["#8DBE47", "#4A7EBB", "#7a7090", "#C0504D"]},
           "legend": {"legendX": 20, "legendY": -40, "columnPadding": 47}},
         "shape": {"datum": "$P [34-150] bars - FSTPT", "type": "nominal", "scale": {"domain": ["$P [34-150] bars - FSTPT", "$P [34-150] bars - FOPT", "$P - pareto - FSTPT", "$P - pareto - FOPT"], "range": ["triangle-up", "circle", "M-1,-0.6L-0.6,-1L0,-0.4L0.6,-1L1,-0.6L0.4,0L1,0.6L0.6,1L0,0.4L-0.6,1L-1,0.6L-0.4,0Z", "circle"]},
           "legend": {"legendX": 20, "legendY": -40, "columnPadding": 47}}
       }},
      {"data": {"name": "R_par"}, "mark": {"type": "point", "filled": true, "size": 45, "opacity": 1},
       "encoding": {"color": {"datum": "$P [34-150] bars - FSTPT", "type": "nominal"}, "shape": {"datum": "$P [34-150] bars - FSTPT", "type": "nominal"}}},
      {"data": {"name": "R_par"}, "mark": {"type": "point", "filled": true, "size": 44, "opacity": 1},
       "encoding": {"color": {"datum": "$P - pareto - FSTPT", "type": "nominal"}, "shape": {"datum": "$P - pareto - FSTPT", "type": "nominal"}}},
      {"data": {"name": "R_blu"}, "mark": {"type": "point", "filled": true, "size": 27, "opacity": 1},
       "encoding": {"color": {"datum": "$P [34-150] bars - FOPT", "type": "nominal"}, "shape": {"datum": "$P [34-150] bars - FOPT", "type": "nominal"}}},
      {"data": {"name": "R_red"}, "mark": {"type": "point", "filled": true, "size": 27, "opacity": 1},
       "encoding": {"color": {"datum": "$P - pareto - FOPT", "type": "nominal"}, "shape": {"datum": "$P - pareto - FOPT", "type": "nominal"}}},
      {"data": {"name": "R_ell"}, "mark": {"type": "point", "filled": false, "color": "#FFB600", "strokeWidth": 4.5, "opacity": 1, "size": 21316, "shape": "M0,-1A0.342,1,0,1,1,0,1A0.342,1,0,1,1,0,-1Z"}, "encoding": {}}
    ]
  }
  ]
}
]
}
